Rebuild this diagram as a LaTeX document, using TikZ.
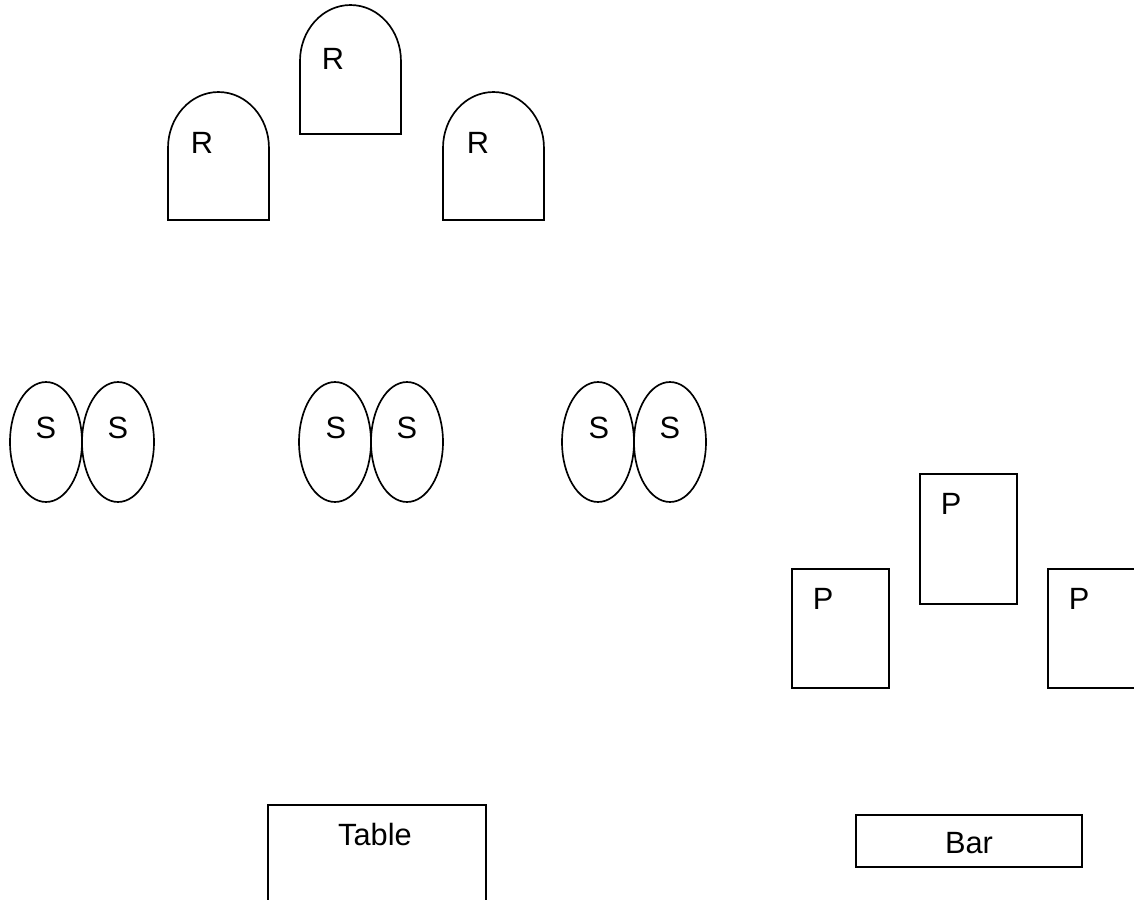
\documentclass[tikz,border=0pt]{standalone}
\usepackage{fontspec}
\setmainfont{Liberation Sans}
\usetikzlibrary{positioning,
        shapes.geometric}

\begin{document}
\begin{tikzpicture}[x=0.02cm,y=-0.02cm,
            line width=0.95pt,
            seat/.style={ellipse,draw,minimum width=1.44cm,minimum height=2.4cm,inner sep=0pt},
            box/.style={rectangle,draw,inner sep=0pt},
            tag/.style={inner sep=0pt,font=\fontsize{17.5}{20}\selectfont}]
            \useasboundingbox (0,0) rectangle (1134,900);

            % R
            \draw (168,220) -- (168,148) arc[start angle=180,end angle=0,x radius=1.01cm,y radius=1.12cm] -- (269,220) -- cycle;
            \draw (300,134) -- (300,61) arc[start angle=180,end angle=0,x radius=1.01cm,y radius=1.12cm] -- (401,134) -- cycle;
            \draw (443,220) -- (443,148) arc[start angle=180,end angle=0,x radius=1.01cm,y radius=1.12cm] -- (544,220) -- cycle;
            \node [tag] (r1) at (202,143) {R};
            \node [tag] (r2) at (333,59) {R};
            \node [tag] (r3) at (478,143) {R};

            % S
            \node [seat] (s1) at (46,442) {};
            \node [seat] (s2) at (118,442) {};
            \node [seat] (s3) at (335,442) {};
            \node [seat] (s4) at (407,442) {};
            \node [seat] (s5) at (598,442) {};
            \node [seat] (s6) at (670,442) {};
            \node [tag] (s1t) at (46,428) {S};
            \node [tag] (s2t) at (118,428) {S};
            \node [tag] (s3t) at (336,428) {S};
            \node [tag] (s4t) at (407,428) {S};
            \node [tag] (s5t) at (599,428) {S};
            \node [tag] (s6t) at (670,428) {S};

            % P
            \node [box,minimum width=1.94cm,minimum height=2.38cm] (p1) at (840.5,628.5) {};
            \node [box,minimum width=1.94cm,minimum height=2.6cm] (p2) at (968.5,539) {};
            \node [box,minimum width=1.94cm,minimum height=2.38cm] (p3) at (1096.5,628.5) {};
            \node [tag] (p1t) at (823,599) {P};
            \node [tag] (p2t) at (951,504) {P};
            \node [tag] (p3t) at (1079,599) {P};

            % table, bar
            \node [box,minimum width=4.36cm,minimum height=2.7cm] (table) at (377,872.5) {};
            \node [tag] (tablet) at (375,835) {Table};
            \node [box,minimum width=4.52cm,minimum height=1.04cm] (bar) at (969,841) {};
            \node [tag] (bart) at (969,843) {Bar};
        \end{tikzpicture}
\end{document}
